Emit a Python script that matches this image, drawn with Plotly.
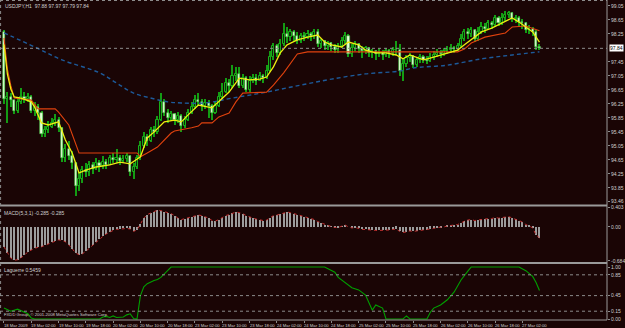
import plotly.graph_objects as go

BG = "#1a0505"
GRID = "#8c8c8c"
TXT = "#d0d0d0"
FONT = "Liberation Sans"
FS = 5

# ---------------- data ----------------
BARS = list(range(158))
OPEN0 = 98.30
CLOSE = [96.40, 96.45, 96.35, 96.05, 96.30, 96.45, 96.40, 96.45, 96.05, 96.15,
         96.00, 95.38, 95.50, 95.60, 95.72, 95.80, 95.55, 94.70, 94.95, 94.75,
         94.55, 93.90, 94.10, 94.35, 94.30, 94.50, 94.40, 94.55, 94.48, 94.60,
         94.52, 94.72, 94.64, 94.70, 94.62, 94.68, 94.75, 94.30, 94.45, 94.70,
         95.05, 95.30, 95.20, 95.50, 95.45, 95.80, 96.30, 95.98, 95.85, 95.95,
         95.80, 95.90, 95.62, 95.80, 96.00, 96.15, 96.35, 96.30, 96.20, 96.28,
         96.20, 96.00, 96.20, 96.45, 96.60, 96.85, 96.75, 97.05, 97.10, 96.75,
         97.00, 96.65, 96.90, 97.00, 96.92, 97.05, 96.98, 97.20, 97.60, 97.90,
         97.70, 97.95, 98.25, 98.15, 98.30, 98.20, 98.05, 98.20, 98.15, 98.25,
         98.18, 98.30, 97.95, 98.05, 97.90, 97.98, 97.88, 97.80, 97.92, 98.05,
         98.20, 97.68, 97.85, 97.95, 97.82, 97.75, 97.85, 97.70, 97.75, 97.68,
         97.72, 97.65, 97.75, 97.70, 97.78, 97.80, 97.20, 97.40, 97.55, 97.62,
         97.35, 97.50, 97.58, 97.52, 97.48, 97.60, 97.65, 97.72, 97.68, 97.75,
         97.80, 97.85, 97.82, 97.90, 98.10, 98.30, 98.25, 98.35, 98.10, 98.30,
         98.45, 98.40, 98.55, 98.50, 98.70, 98.55, 98.72, 98.80, 98.85, 98.68,
         98.70, 98.60, 98.55, 98.35, 98.40, 98.30, 97.88, 97.84]
HIGH = [98.36, 96.60, 96.55, 96.35, 96.40, 96.72, 96.58, 96.55, 96.50, 96.30,
        96.25, 96.05, 95.62, 95.75, 95.85, 95.95, 95.88, 95.58, 95.10, 95.20,
        94.90, 94.60, 94.30, 94.48, 94.55, 94.62, 94.60, 94.70, 94.65, 94.75,
        94.68, 94.80, 94.85, 94.95, 94.78, 94.80, 94.85, 94.80, 94.55, 94.80,
        95.20, 95.45, 95.40, 95.60, 95.62, 95.90, 96.55, 96.40, 96.10, 96.05,
        96.00, 96.02, 95.95, 95.90, 96.10, 96.30, 96.50, 96.55, 96.40, 96.38,
        96.35, 96.25, 96.30, 96.60, 96.85, 97.00, 96.95, 97.35, 97.30, 97.30,
        97.10, 97.05, 97.05, 97.12, 97.10, 97.15, 97.10, 97.35, 97.75, 98.00,
        97.95, 98.10, 98.55, 98.45, 98.40, 98.35, 98.30, 98.28, 98.30, 98.35,
        98.30, 98.40, 98.38, 98.12, 98.08, 98.05, 98.02, 97.95, 98.00, 98.15,
        98.30, 98.25, 97.95, 98.05, 98.00, 97.90, 97.92, 97.88, 97.82, 97.80,
        97.85, 97.78, 97.85, 97.82, 97.88, 98.05, 97.95, 97.55, 97.65, 97.72,
        97.65, 97.60, 97.68, 97.65, 97.62, 97.70, 97.75, 97.82, 97.80, 97.85,
        97.90, 97.95, 97.92, 98.00, 98.25, 98.40, 98.42, 98.45, 98.40, 98.45,
        98.60, 98.55, 98.65, 98.62, 98.80, 98.75, 98.85, 98.90, 98.92, 98.88,
        98.80, 98.75, 98.68, 98.60, 98.50, 98.45, 98.35, 97.97]
LOW = [96.24, 95.70, 96.15, 95.95, 95.98, 96.25, 96.28, 96.30, 95.98, 95.90,
       95.80, 95.30, 95.30, 95.42, 95.55, 95.62, 95.45, 94.60, 94.60, 94.65,
       94.40, 93.62, 93.75, 94.00, 94.15, 94.20, 94.25, 94.35, 94.30, 94.40,
       94.38, 94.50, 94.55, 94.55, 94.50, 94.55, 94.60, 94.20, 94.12, 94.40,
       94.65, 95.00, 95.05, 95.15, 95.30, 95.40, 95.75, 95.90, 95.70, 95.75,
       95.65, 95.70, 95.45, 95.55, 95.75, 95.95, 96.10, 96.20, 96.05, 96.10,
       95.85, 95.80, 95.95, 96.15, 96.40, 96.55, 96.60, 96.70, 96.90, 96.70,
       96.70, 96.58, 96.60, 96.85, 96.80, 96.90, 96.85, 96.95, 97.15, 97.50,
       97.60, 97.65, 97.90, 98.00, 98.05, 98.05, 97.95, 98.00, 98.05, 98.10,
       98.05, 98.12, 97.88, 97.85, 97.80, 97.80, 97.75, 97.70, 97.72, 97.85,
       97.95, 97.60, 97.60, 97.75, 97.70, 97.55, 97.68, 97.60, 97.55, 97.52,
       97.60, 97.50, 97.58, 97.55, 97.62, 97.65, 97.05, 96.90, 97.30, 97.45,
       97.28, 97.30, 97.42, 97.42, 97.40, 97.45, 97.52, 97.58, 97.55, 97.62,
       97.68, 97.72, 97.70, 97.75, 97.85, 98.05, 98.10, 98.15, 98.02, 98.05,
       98.25, 98.28, 98.35, 98.38, 98.45, 98.48, 98.50, 98.62, 98.70, 98.60,
       98.55, 98.45, 98.40, 98.28, 98.25, 98.20, 97.80, 97.79]

YEL_I = [0, 1, 2, 3, 5, 8, 9, 11, 13, 16, 18, 20, 22, 24, 27, 31, 34, 37, 40, 42,
         44, 47, 50, 52, 54, 57, 61, 63, 66, 69, 72, 75, 77, 79, 81, 83, 86, 89, 92, 94,
         96, 99, 101, 104, 106, 109, 112, 115, 117, 119, 123, 126, 130, 133, 135, 138,
         140, 143, 146, 149, 151, 153, 155, 157]
YEL_V = [97.95, 97.10, 96.68, 96.45, 96.42, 96.31, 96.16, 95.71, 95.65, 95.74, 95.22, 94.85,
         94.28, 94.36, 94.45, 94.51, 94.59, 94.54, 94.74, 95.28, 95.45, 95.74, 95.79, 95.74,
         95.94, 96.22, 96.14, 96.31, 96.59, 96.99, 96.94, 96.96, 97.02, 97.31, 97.71, 97.94,
         98.08, 98.16, 98.22, 98.02, 97.94, 97.88, 98.02, 97.94, 97.79, 97.71, 97.71, 97.65,
         97.54, 97.65, 97.51, 97.59, 97.71, 97.79, 97.94, 98.16, 98.31, 98.42, 98.56, 98.71,
         98.59, 98.45, 98.31, 98.02]

RED_I = [0, 1, 2, 3, 8, 9, 10, 15, 16, 19, 22, 39, 40, 42, 45, 49, 50, 55, 57, 58, 61, 63,
         66, 68, 70, 77, 79, 82, 84, 86, 89, 133, 135, 137, 141, 144, 147, 149, 153, 157]
RED_V = [98.14, 97.25, 96.78, 96.42, 96.36, 96.22, 96.11, 96.11, 96.02, 95.65, 94.85, 94.85,
         94.74, 94.85, 95.02, 95.42, 95.48, 95.57, 95.62, 95.71, 95.71, 95.88, 95.99, 96.31,
         96.56, 96.59, 96.79, 97.14, 97.42, 97.68, 97.74, 97.74, 97.82, 97.99, 98.16, 98.22,
         98.28, 98.45, 98.48, 98.34]

BLUE_I = [0, 9, 17, 28, 33, 38, 43, 48, 52, 59, 67, 77, 87, 96, 106, 116, 120, 130, 140, 149, 157]
BLUE_V = [98.28, 97.88, 97.51, 97.14, 96.85, 96.56, 96.42, 96.31, 96.28, 96.28, 96.42, 96.59,
          96.79, 96.96, 97.11, 97.19, 97.28, 97.36, 97.54, 97.65, 97.74]

MACD = [-0.40, -0.53, -0.63, -0.67, -0.66, -0.62, -0.57, -0.50, -0.46, -0.43,
        -0.41, -0.40, -0.37, -0.34, -0.31, -0.28, -0.26, -0.27, -0.30, -0.36,
        -0.44, -0.52, -0.56, -0.54, -0.49, -0.43, -0.36, -0.30, -0.24, -0.19,
        -0.14, -0.10, -0.07, -0.05, -0.04, -0.03, -0.03, -0.04, -0.09, -0.06,
        0.06, 0.18, 0.25, 0.28, 0.31, 0.34, 0.33, 0.31, 0.29, 0.27,
        0.23, 0.18, 0.15, 0.17, 0.19, 0.21, 0.23, 0.24,
        0.23, 0.21, 0.18, 0.13, 0.12, 0.15, 0.19, 0.23, 0.25, 0.28,
        0.30, 0.29, 0.27, 0.23, 0.20, 0.18, 0.16, 0.14, 0.13, 0.14,
        0.18, 0.23, 0.24, 0.26, 0.29, 0.30, 0.29, 0.27, 0.24, 0.22,
        0.20, 0.18, 0.16, 0.15, 0.11, 0.08, 0.05, 0.03, 0.01, -0.01,
        -0.01, 0.01, 0.04, 0.00, -0.02, -0.01, -0.03, -0.05, -0.05, -0.06,
        -0.06, -0.07, -0.07, -0.07, -0.06, -0.06, -0.05, -0.04, -0.09, -0.11,
        -0.10, -0.08, -0.09, -0.08, -0.07, -0.06, -0.06, -0.04, -0.03, -0.01,
        -0.01, 0.00, 0.02, 0.03, 0.03, 0.05, 0.08, 0.12, 0.14, 0.15,
        0.13, 0.14, 0.16, 0.16, 0.17, 0.17, 0.19, 0.18, 0.19, 0.20,
        0.21, 0.18, 0.16, 0.13, 0.10, 0.05, 0.02, -0.02, -0.16, -0.22]

LAG_I = [0, 2, 4, 6, 7, 8, 9, 28, 29, 30, 31, 32, 33, 35, 36, 37, 38, 39, 40, 41,
         42, 44, 45, 46, 48, 49, 94, 97, 98, 100, 102, 104, 106, 108, 109, 111, 112,
         117, 118, 119, 124, 125, 126, 128, 130, 132, 134, 136, 137, 151, 153, 155, 156, 157]
LAG_V = [0.21, 0.15, 0.19, 0.14, 0.10, 0.02, 0.0, 0.0, 0.04, 0.05, 0.03, 0.06, 0.03, 0.04,
         0.08, 0.10, 0.01, 0.0, 0.45, 0.62, 0.68, 0.74, 0.76, 0.80, 0.93, 1.0, 1.0, 0.9,
         0.8, 0.7, 0.6, 0.56, 0.46, 0.17, 0.27, 0.21, 0.0, 0.0, 0.06, 0.0, 0.0, 0.13, 0.21,
         0.27, 0.37, 0.52, 0.75, 0.92, 1.0, 1.0, 0.93, 0.82, 0.70, 0.55]
LAG_LEVELS = [0.85, 0.45, 0.15]

PRICE_TICKS = [99.05, 98.65, 98.25, 97.45, 97.05, 96.65, 96.25, 95.85, 95.45,
               95.05, 94.65, 94.25, 93.85, 93.46]
MACD_TICKS = [0.403, 0.0, -0.684]
MACD_TICK_TEXT = ["0.403", "0.00", "-0.684"]
LAG_TICKS = [1.0, 0.85, 0.45, 0.15, 0.0]
TIME_BARS = [0, 8, 16, 24, 32, 40, 48, 56, 64, 72, 80, 88, 96, 104, 112, 120, 128, 136, 144, 152]
TIME_TEXT = ["18 Mar 2009", "19 Mar 02:00", "19 Mar 10:00", "19 Mar 18:00", "20 Mar 02:00",
             "20 Mar 10:00", "20 Mar 18:00", "23 Mar 02:00", "23 Mar 10:00", "23 Mar 18:00",
             "24 Mar 02:00", "24 Mar 10:00", "24 Mar 18:00", "25 Mar 02:00", "25 Mar 10:00",
             "25 Mar 18:00", "26 Mar 02:00", "26 Mar 10:00", "26 Mar 18:00", "27 Mar 02:00"]
TITLE = "USDJPY,H1  97.88 97.97 97.79 97.84"
MACD_LABEL = "MACD(5,3,1) -0.285 -0.285"
LAG_LABEL = "Laguerre 0.5459"
COPYRIGHT = "FXDD Group, © 2001-2008 MetaQuotes Software Corp."

OPENS = [OPEN0] + CLOSE[:-1]

# candle parts, derived from OHLC
bull_x = [i for i in BARS if CLOSE[i] >= OPENS[i]]
bear_x = [i for i in BARS if CLOSE[i] < OPENS[i]]
def body(ix):
    base = [min(OPENS[i], CLOSE[i]) for i in ix]
    h = [max(abs(CLOSE[i] - OPENS[i]), 0.012) for i in ix]
    return base, h
bull_base, bull_h = body(bull_x)
bear_base, bear_h = body(bear_x)
wick_h = [HIGH[i] - LOW[i] for i in BARS]

# ---------------- figure ----------------
fig = go.Figure()
fig.add_trace(go.Scatter(x=BLUE_I, y=BLUE_V, mode="lines",
                         line=dict(color="#1d5a9a", width=1.4, dash="4px,3px", shape="spline"),
                         xaxis="x", yaxis="y", hoverinfo="skip"))
fig.add_trace(go.Bar(x=BARS, y=wick_h, base=LOW, width=0.3,
                     marker=dict(color="#149c14", line=dict(width=0)),
                     xaxis="x", yaxis="y", hoverinfo="skip"))
fig.add_trace(go.Bar(x=bull_x, y=bull_h, base=bull_base, width=0.62,
                     marker=dict(color="#0d2a0a", line=dict(color="#18b018", width=1)),
                     xaxis="x", yaxis="y", hoverinfo="skip"))
fig.add_trace(go.Bar(x=bear_x, y=bear_h, base=bear_base, width=0.62,
                     marker=dict(color="#e6ffd8", line=dict(color="#40c040", width=0.6)),
                     xaxis="x", yaxis="y", hoverinfo="skip"))
fig.add_trace(go.Scatter(x=RED_I, y=RED_V, mode="lines",
                         line=dict(color="#e0420e", width=1.1), xaxis="x", yaxis="y", hoverinfo="skip"))
fig.add_trace(go.Scatter(x=YEL_I, y=YEL_V, mode="lines",
                         line=dict(color="#eeee10", width=1.3), xaxis="x", yaxis="y", hoverinfo="skip"))

fig.add_trace(go.Bar(x=BARS, y=MACD, width=0.3, marker=dict(color="#9c9c9c", line=dict(width=0)),
                     xaxis="x2", yaxis="y2", hoverinfo="skip"))
fig.add_trace(go.Scatter(x=BARS, y=MACD, mode="lines",
                         line=dict(color="#c03030", width=1, dash="dot"),
                         xaxis="x2", yaxis="y2", hoverinfo="skip"))
fig.add_trace(go.Scatter(x=LAG_I, y=LAG_V, mode="lines",
                         line=dict(color="#00a000", width=1.1),
                         xaxis="x3", yaxis="y3", hoverinfo="skip"))

H_PLOT = 320.0
def py(pix):
    return (H_PLOT - pix) / H_PLOT

XR = [-1.17, 176.8]
xcommon = dict(range=XR, showgrid=False, zeroline=False, showticklabels=False,
               showline=False, fixedrange=True)
ycommon = dict(side="right", showgrid=False, zeroline=False, showline=False,
               ticks="outside", ticklen=2, tickcolor=GRID, automargin=False,
               tickfont=dict(family=FONT, size=FS, color=TXT))

fig.update_layout(
    width=625, height=328,
    margin=dict(l=0, r=18, t=0, b=8),
    paper_bgcolor=BG, plot_bgcolor=BG,
    showlegend=False, barmode="overlay", bargap=0,
    xaxis=dict(domain=[0, 1], anchor="y", **xcommon),
    xaxis2=dict(domain=[0, 1], anchor="y2", matches="x", **xcommon),
    xaxis3=dict(domain=[0, 1], anchor="y3", matches="x", ticks="outside", ticklen=2,
                tickcolor=GRID, tickvals=TIME_BARS, **xcommon),
    yaxis=dict(domain=[py(205), 1], range=[93.364, 99.221], anchor="x",
               tickvals=PRICE_TICKS, ticktext=[f"{v:.2f}" for v in PRICE_TICKS], **ycommon),
    yaxis2=dict(domain=[py(262), py(207)], range=[-0.706, 0.403], anchor="x2",
                tickvals=MACD_TICKS, ticktext=MACD_TICK_TEXT, **ycommon),
    yaxis3=dict(domain=[0, py(264)], range=[-0.019, 1.058], anchor="x3",
                tickvals=LAG_TICKS, ticktext=[f"{v:.2f}" for v in LAG_TICKS], **ycommon),
)

shapes = []
shapes.append(dict(type="line", xref="paper", x0=0, x1=1, yref="y", y0=CLOSE[-1], y1=CLOSE[-1],
                   line=dict(color=GRID, width=1, dash="dot")))
for lv in LAG_LEVELS:
    shapes.append(dict(type="line", xref="paper", x0=0, x1=1, yref="y3", y0=lv, y1=lv,
                       line=dict(color=GRID, width=1, dash="dot")))
for yp in (py(205.5), py(263)):
    shapes.append(dict(type="line", xref="paper", x0=0, x1=1, yref="paper", y0=yp, y1=yp,
                       line=dict(color="#9a9a9a", width=2)))
shapes.append(dict(type="line", xref="paper", x0=0, x1=1, yref="paper", y0=py(0.5), y1=py(0.5),
                   line=dict(color=GRID, width=1, dash="dot")))
shapes.append(dict(type="line", xref="paper", x0=0.001, x1=0.001, yref="paper", y0=0, y1=1,
                   line=dict(color=GRID, width=1, dash="dot")))
shapes.append(dict(type="line", xref="paper", x0=0, x1=1, yref="paper", y0=0, y1=0,
                   line=dict(color="#9a9a9a", width=1)))
shapes.append(dict(type="line", xref="paper", x0=1, x1=1, yref="paper", y0=0, y1=1,
                   line=dict(color="#9a9a9a", width=1)))
fig.update_layout(shapes=shapes)

ann = []
txtfont = dict(family=FONT, size=FS, color=TXT)
xfont = dict(family=FONT, size=4.2, color=TXT)
for b, t in zip(TIME_BARS, TIME_TEXT):
    ann.append(dict(x=b, xref="x3", y=0, yref="paper", yanchor="top", xanchor="left",
                    text=t, showarrow=False, font=xfont, yshift=-1, xshift=-2))
ann.append(dict(x=0, xref="paper", y=1, yref="paper", xanchor="left", yanchor="top",
                text=TITLE, showarrow=False, font=txtfont, xshift=3, yshift=-1))
ann.append(dict(x=0, xref="paper", y=py(207), yref="paper", xanchor="left", yanchor="top",
                text=MACD_LABEL, showarrow=False, font=txtfont, xshift=2, yshift=-1))
ann.append(dict(x=0, xref="paper", y=py(264), yref="paper", xanchor="left", yanchor="top",
                text=LAG_LABEL, showarrow=False, font=txtfont, xshift=2, yshift=-1))
ann.append(dict(x=0, xref="paper", y=0, yref="paper", xanchor="left", yanchor="bottom",
                text=COPYRIGHT, showarrow=False, font=xfont, xshift=2, yshift=1))
ann.append(dict(x=1, xref="paper", y=CLOSE[-1], yref="y", xanchor="left", yanchor="middle",
                text=f"{CLOSE[-1]:.2f}", showarrow=False, bgcolor="#ffffff", borderpad=0,
                font=dict(family=FONT, size=FS, color="#000000"), xshift=2))
fig.update_layout(annotations=ann)

fig.write_html("out.html")
